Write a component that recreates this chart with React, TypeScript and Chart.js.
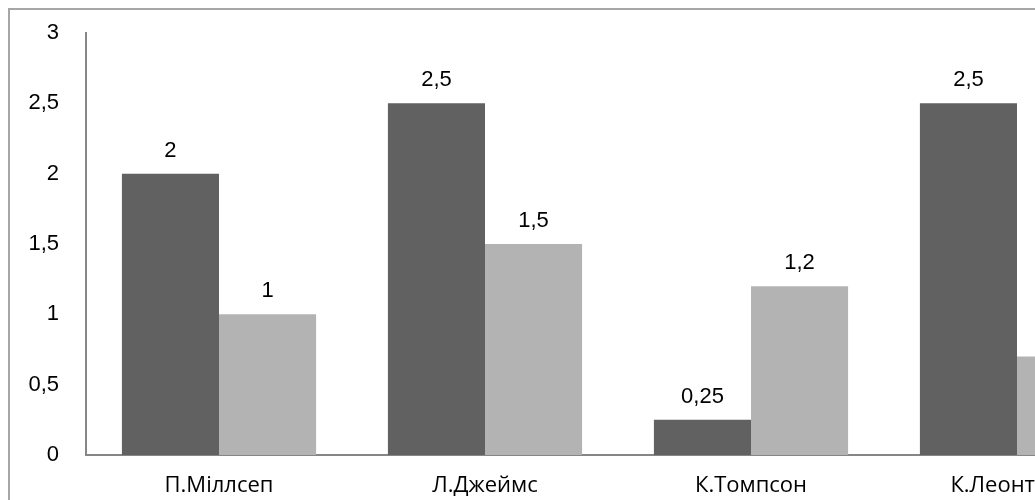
import React, { useEffect, useRef } from "react";
import { Chart, registerables } from "chart.js";

Chart.register(...registerables);

const categories = ["П.Міллсеп", "Л.Джеймс", "К.Томпсон", "К.Леонтьєва"];
const seriesDark = [2, 2.5, 0.25, 2.5];
const seriesLight = [1, 1.5, 1.2, 0.7];
const yTicks = [0, 0.5, 1, 1.5, 2, 2.5, 3];

const fmt = (v: number) => String(v).replace(".", ",");

const valueLabels = {
  id: "valueLabels",
  afterDatasetsDraw(chart: any) {
    const ctx = chart.ctx;
    ctx.save();
    ctx.font = '22px "Liberation Sans", Arial, sans-serif';
    ctx.fillStyle = "#000000";
    ctx.textAlign = "center";
    ctx.textBaseline = "bottom";
    chart.data.datasets.forEach((ds: any, i: number) => {
      const meta = chart.getDatasetMeta(i);
      meta.data.forEach((el: any, j: number) => {
        ctx.fillText(fmt(ds.data[j]), el.x, el.y - 12);
      });
    });
    ctx.restore();
  },
};

export default function App() {
  const ref = useRef<HTMLCanvasElement | null>(null);
  useEffect(() => {
    if (!ref.current) return;
    const chart = new Chart(ref.current, {
      type: "bar",
      data: {
        labels: categories,
        datasets: [
          { data: seriesDark, backgroundColor: "#616161", categoryPercentage: 0.73, barPercentage: 1 },
          { data: seriesLight, backgroundColor: "#b3b3b3", categoryPercentage: 0.73, barPercentage: 1 },
        ],
      },
      options: {
        animation: false,
        responsive: true,
        maintainAspectRatio: false,
        layout: { padding: { top: 23, left: 0, right: 20, bottom: 5 } },
        plugins: { legend: { display: false }, tooltip: { enabled: false } },
        scales: {
          x: {
            afterFit: (scale: any) => {
              scale.height = 50;
              scale.paddingLeft = 0;
              scale.paddingRight = 0;
            },
            grid: { display: false, drawTicks: false },
            border: { display: true, color: "#868686", width: 2 },
            ticks: {
              padding: 18,
              color: "#000000",
              font: { family: '"Open Sans", sans-serif', size: 22 },
            },
          },
          y: {
            min: 0,
            max: 3,
            afterBuildTicks: (scale: any) => {
              scale.ticks = yTicks.map((v) => ({ value: v }));
            },
            afterFit: (scale: any) => {
              scale.width = 76;
              scale.paddingTop = 0;
              scale.paddingBottom = 0;
            },
            grid: { display: false, drawTicks: false },
            border: { display: true, color: "#868686", width: 2 },
            ticks: {
              padding: 27,
              color: "#000000",
              font: { family: '"Liberation Sans", Arial, sans-serif', size: 22 },
              callback: (v: any) => fmt(Number(v)),
            },
          },
        },
      },
      plugins: [valueLabels],
    });
    return () => chart.destroy();
  }, []);

  return (
    <div style={{ position: "fixed", left: 8, top: 8, right: 0, bottom: 0, overflow: "hidden" }}>
      <div style={{ border: "2px solid #a6a6a6", width: 1160, height: 500 }}>
        <div style={{ position: "relative", width: 1160, height: 500 }}>
          <canvas ref={ref} />
        </div>
      </div>
    </div>
  );
}
